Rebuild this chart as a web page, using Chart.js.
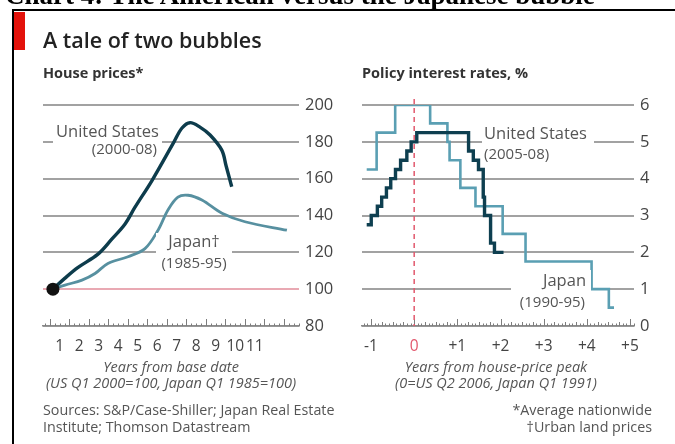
<!DOCTYPE html>
<html>
<head>
<meta charset="utf-8">
<script src="https://cdn.jsdelivr.net/npm/chart.js@4.4.1/dist/chart.umd.min.js"></script>
<style>
  body { margin: 0; background: #fff; }
  #wrap { position: relative; width: 675px; height: 444px; overflow: hidden; font-family: 'Open Sans', sans-serif; color: #555; }
  canvas { position: absolute; left: 0; top: 0; }
  .t { position: absolute; white-space: nowrap; }
  .lab { position: absolute; background: #fff; font-size: 16.5px; color: #555; }
  .lab div { white-space: nowrap; }
  .it { font-style: italic; font-size: 14.5px; line-height: 16px; text-align: center; }
</style>
</head>
<body>
<div id="wrap">
  <canvas id="house" width="675" height="444"></canvas>
  <canvas id="rates" width="675" height="444"></canvas>

  <div class="t" style="left:5px;top:-18px;font:bold 27px 'Liberation Serif',serif;line-height:27px;color:#000;">Chart 4: The American versus the Japanese bubble</div>
  <div style="position:absolute;left:12px;top:9px;width:663px;height:2px;background:#000;"></div>
  <div style="position:absolute;left:12px;top:9px;width:2px;height:435px;background:#000;"></div>
  <div style="position:absolute;left:14px;top:12px;width:11px;height:38px;background:#e3120b;"></div>

  <div class="t" style="left:43px;top:28px;font-size:21.5px;line-height:24px;font-weight:600;color:#222;">A tale of two bubbles</div>
  <div class="t" style="left:43px;top:64px;font-size:14.5px;line-height:17px;font-weight:700;color:#333;">House prices*</div>
  <div class="t" style="left:362px;top:64px;font-size:14.5px;line-height:17px;font-weight:700;color:#333;">Policy interest rates, %</div>

  <div class="lab" style="left:53px;top:121px;width:109px;height:36px;">
    <div style="line-height:19px;padding-left:3px;">United States</div>
    <div style="line-height:17px;font-size:15px;text-align:right;padding-right:5px;">(2000-08)</div>
  </div>
  <div class="lab" style="left:156px;top:233px;width:76px;height:40px;text-align:center;">
    <div style="line-height:15px;">Japan†</div>
    <div style="line-height:28px;font-size:15px;">(1985-95)</div>
  </div>
  <div class="lab" style="left:482px;top:123px;width:112px;height:40px;">
    <div style="line-height:20px;padding-left:2px;">United States</div>
    <div style="line-height:20px;font-size:15px;padding-left:2px;">(2005-08)</div>
  </div>
  <div class="lab" style="left:511px;top:270px;width:80px;height:42px;text-align:right;">
    <div style="line-height:20px;padding-right:5px;">Japan</div>
    <div style="line-height:22px;font-size:15px;padding-right:6px;">(1990-95)</div>
  </div>

  <div class="t it" style="left:43px;width:256px;top:359px;">Years from base date</div>
  <div class="t it" style="left:33px;width:276px;top:375px;">(US Q1 2000=100, Japan Q1 1985=100)</div>
  <div class="t it" style="left:362px;width:268px;top:359px;">Years from house-price peak</div>
  <div class="t it" style="left:362px;width:268px;top:375px;">(0=US Q2 2006, Japan Q1 1991)</div>

  <div class="t" style="left:43px;top:401px;font-size:14.3px;line-height:17px;">Sources: S&amp;P/Case-Shiller; Japan Real Estate<br>Institute; Thomson Datastream</div>
  <div class="t" style="right:23px;top:401px;font-size:14.3px;line-height:17px;text-align:right;">*Average nationwide<br>†Urban land prices</div>
</div>

<script>
// house prices, index base date = 100, x in years from base date
const usHouseYears = [0.15, 0.77, 1.44, 2.46, 3.18, 3.85, 4.36, 5.23, 6.36, 6.77, 7.18, 7.69, 8.21, 8.81, 9.03, 9.32];
const usHouseIndex = [100, 106, 111.8, 119, 127.3, 135.4, 144.5, 159, 180, 187.5, 190.4, 188, 183.7, 175.5, 167, 155.6];
const jpHouseYears = [0.15, 0.77, 1.64, 2.31, 2.97, 4.0, 4.87, 5.54, 6.05, 6.56, 7.08, 7.79, 8.82, 10.0, 12.15];
const jpHouseIndex = [100, 102.2, 104.9, 108.5, 114, 117.6, 122, 132, 143, 150, 151, 148.4, 141.2, 136.6, 132];
const houseTickPos = [0.5, 1.5, 2.5, 3.5, 4.5, 5.5, 6.5, 7.5, 8.5, 9.5, 10.5];
const houseTickLabels = ['1', '2', '3', '4', '5', '6', '7', '8', '9', '10', '11'];

// policy rates, %, x in years from house-price peak
const usRateYears = [-1.1, -0.995, -0.853, -0.753, -0.643, -0.543, -0.433, -0.315, -0.17, -0.07, 0.06, 1.26, 1.37, 1.49, 1.6, 1.63, 1.77, 1.86, 2.07];
const usRate = [2.75, 3.0, 3.25, 3.5, 3.75, 4.0, 4.25, 4.5, 4.75, 5.0, 5.25, 4.75, 4.5, 4.25, 3.5, 3.0, 2.25, 2.0, 2.0];
const jpRateYears = [-1.1, -0.87, -0.44, 0.37, 0.77, 0.82, 1.07, 1.42, 2.05, 2.58, 4.11, 4.51, 4.63];
const jpRate = [4.25, 5.25, 6.0, 5.5, 5.0, 4.5, 3.75, 3.25, 2.5, 1.75, 1.0, 0.5, 0.5];
const rateTickPos = [-1, 0, 1, 2, 3, 4, 5];
const rateTickLabels = ['-1', '0', '+1', '+2', '+3', '+4', '+5'];

const pts = (xs, ys) => xs.map((x, i) => ({ x: x, y: ys[i] }));
const FONT = 'Open Sans';
const GRID = '#a2a2a2';

// little tick marks standing up from the bottom axis
const axisTicks = {
  id: 'axisTicks',
  beforeDatasetsDraw(chart, args, opts) {
    const { ctx, chartArea } = chart;
    const x = chart.scales.x;
    ctx.save();
    ctx.strokeStyle = '#7d7d7d';
    ctx.lineWidth = 1;
    const first = Math.ceil(x.min * opts.per), last = Math.floor(x.max * opts.per);
    for (let k = first; k <= last; k++) {
      const px = Math.round(x.getPixelForValue(k / opts.per)) + 0.5;
      let len = 2.5;
      if (k % opts.per === 0) len = 7;
      else if (opts.mid && k % opts.mid === 0) len = 4;
      ctx.beginPath();
      ctx.moveTo(px, chartArea.bottom);
      ctx.lineTo(px, chartArea.bottom - len);
      ctx.stroke();
    }
    ctx.restore();
  }
};

// red dashed line at the house-price peak
const peakLine = {
  id: 'peakLine',
  beforeDatasetsDraw(chart) {
    if (!chart.options.plugins.peakLine) return;
    const { ctx, chartArea } = chart;
    const px = chart.scales.x.getPixelForValue(0);
    ctx.save();
    ctx.strokeStyle = '#e2586d';
    ctx.lineWidth = 1.5;
    ctx.setLineDash([5, 4]);
    ctx.beginPath();
    ctx.moveTo(px, chartArea.top - 6);
    ctx.lineTo(px, chartArea.bottom);
    ctx.stroke();
    ctx.restore();
  }
};

function axes(xMin, xMax, yMin, yMax, step, tickPos, tickLabels, gridColor, tickColor) {
  return {
    x: {
      type: 'linear', min: xMin, max: xMax,
      afterBuildTicks: s => { s.ticks = tickPos.map(v => ({ value: v })); },
      afterFit: s => { s.height = 30; },
      grid: { display: false, drawTicks: false },
      border: { display: true, color: '#8a8a8a', width: 1.5 },
      ticks: {
        autoSkip: false, maxRotation: 0, padding: 11,
        font: { family: FONT, size: 15.5 }, color: tickColor,
        callback: (v, i) => tickLabels[i]
      }
    },
    y: {
      position: 'right', min: yMin, max: yMax,
      afterFit: s => { s.width = 40; },
      grid: { color: gridColor, lineWidth: 2, drawTicks: false },
      border: { display: false },
      ticks: { stepSize: step, padding: 6, font: { family: FONT, size: 16.5 }, color: '#444' }
    }
  };
}

new Chart(document.getElementById('house'), {
  type: 'line',
  data: {
    datasets: [
      {
        data: [{ x: usHouseYears[0], y: usHouseIndex[0] }],
        pointRadius: 6.5, pointBackgroundColor: '#111', pointBorderWidth: 0, showLine: false
      },
      {
        data: pts(usHouseYears, usHouseIndex),
        borderColor: '#0d3c4c', borderWidth: 3.4, tension: 0.35, pointRadius: 0
      },
      {
        data: pts(jpHouseYears, jpHouseIndex),
        borderColor: '#5790a0', borderWidth: 2.8, tension: 0.35, pointRadius: 0
      }
    ]
  },
  options: {
    responsive: false, animation: false,
    layout: { padding: { left: 43, top: 105, right: 336, bottom: 88 } },
    scales: axes(-0.359, 12.77, 80, 200, 20, houseTickPos, houseTickLabels,
      c => (c.tick && c.tick.value === 100 ? '#e9a9b3' : GRID), '#444'),
    plugins: { legend: { display: false }, tooltip: { enabled: false }, axisTicks: { per: 4 } }
  },
  plugins: [axisTicks, peakLine]
});

new Chart(document.getElementById('rates'), {
  type: 'line',
  data: {
    datasets: [
      {
        data: pts(usRateYears, usRate),
        borderColor: '#0e3f50', borderWidth: 3.4, stepped: true, pointRadius: 0
      },
      {
        data: pts(jpRateYears, jpRate),
        borderColor: '#5a9fb3', borderWidth: 2.6, stepped: true, pointRadius: 0
      }
    ]
  },
  options: {
    responsive: false, animation: false,
    layout: { padding: { left: 362, top: 105, right: 1, bottom: 88 } },
    scales: axes(-1.209, 5.093, 0, 6, 1, rateTickPos, rateTickLabels, GRID,
      c => (c.tick && c.tick.value === 0 ? '#e2586d' : '#444')),
    plugins: { legend: { display: false }, tooltip: { enabled: false }, axisTicks: { per: 12, mid: 3 }, peakLine: true }
  },
  plugins: [axisTicks, peakLine]
});
</script>
</body>
</html>
